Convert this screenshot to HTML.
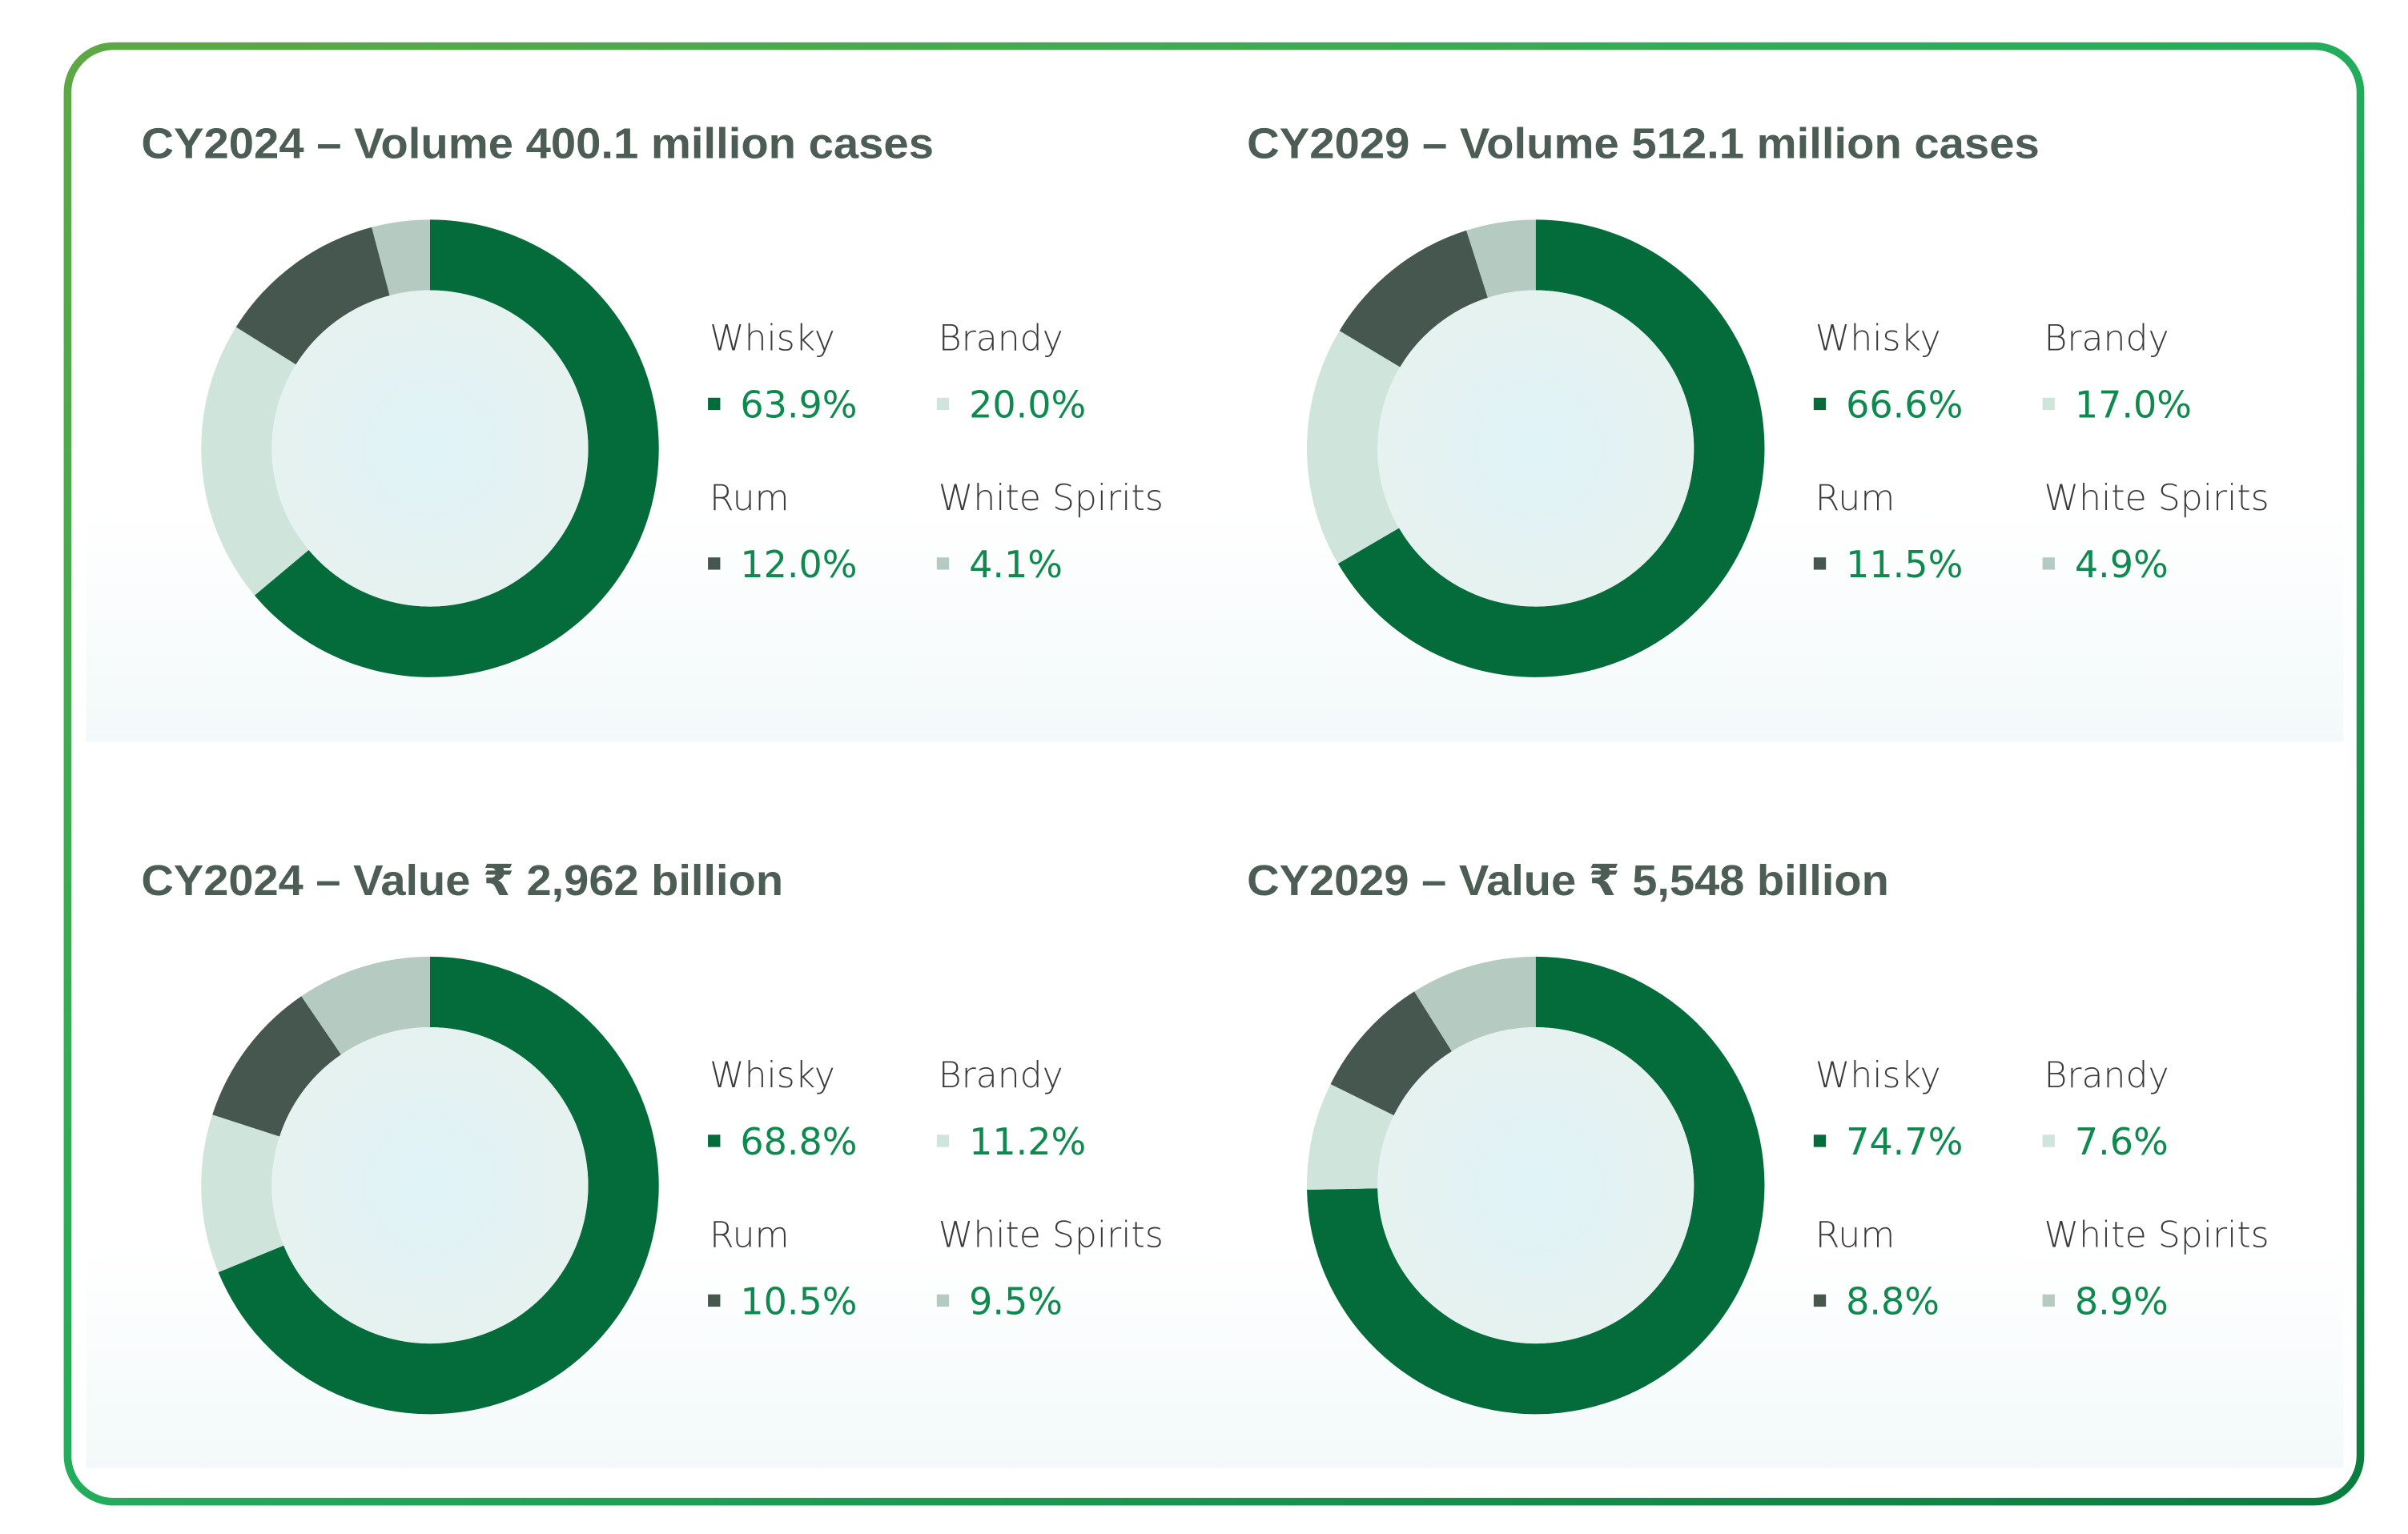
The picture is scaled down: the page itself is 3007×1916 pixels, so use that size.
<!DOCTYPE html>
<html><head><style>
html,body{margin:0;padding:0;background:#fff;}
svg{display:block}
text{font-family:"Liberation Sans","DejaVu Sans",sans-serif}
.t{font-size:28px;font-weight:bold;fill:#4b5d54}
.l{font-size:23px;fill:#3a3a3a;font-family:"DejaVu Sans","Liberation Sans",sans-serif;font-weight:200}
.v{font-size:24px;fill:#0f8a4f;font-family:"DejaVu Sans","Liberation Sans",sans-serif}
</style></head><body>
<svg width="3007" height="1916" viewBox="0 0 1568 999" xmlns="http://www.w3.org/2000/svg">
<defs>
<linearGradient id="bd" x1="0" y1="0" x2="1" y2="1">
<stop offset="0" stop-color="#5ea845"/><stop offset="0.5" stop-color="#22ad5c"/><stop offset="1" stop-color="#0a7d3f"/>
</linearGradient>
<radialGradient id="in" cx="0.5" cy="0.5" r="0.5"><stop offset="0" stop-color="#e0f3f8"/><stop offset="1" stop-color="#e6f2ef"/></radialGradient>
<linearGradient id="sh" x1="0" y1="0" x2="0" y2="1"><stop offset="0" stop-color="#fff"/><stop offset="1" stop-color="#f3f9fa"/></linearGradient>
</defs>
<rect x="0" y="0" width="1568" height="999" fill="#fff"/>
<rect x="56" y="330" width="1470" height="153" fill="url(#sh)"/>
<rect x="56" y="810" width="1470" height="146" fill="url(#sh)"/>
<rect x="44" y="30" width="1493" height="948" rx="30" fill="none" stroke="url(#bd)" stroke-width="5"/>
<g id="charts"></g>
<text class="t" x="92" y="103" textLength="516" lengthAdjust="spacingAndGlyphs">CY2024 – Volume 400.1 million cases</text>
<text class="t" x="812" y="103" textLength="516" lengthAdjust="spacingAndGlyphs">CY2029 – Volume 512.1 million cases</text>
<text class="t" x="92" y="583" textLength="418" lengthAdjust="spacingAndGlyphs">CY2024 – Value ₹ 2,962 billion</text>
<text class="t" x="812" y="583" textLength="418" lengthAdjust="spacingAndGlyphs">CY2029 – Value ₹ 5,548 billion</text>
</svg>
<script>
var C=["#046b3a","#cfe5dc","#46574f","#b5cbc2"];
var data=[[280,292,[63.9,20.0,12.0,4.1]],[1000,292,[66.6,17.0,11.5,4.9]],[280,772,[68.8,11.2,10.5,9.5]],[1000,772,[74.7,7.6,8.8,8.9]]];
var g=document.getElementById("charts"),s="";
var R=149,r=103;
function pt(cx,cy,rad,a){var t=(a-90)*Math.PI/180;return [cx+rad*Math.cos(t),cy+rad*Math.sin(t)];}
var names=["Whisky","Brandy","Rum","White Spirits"];
data.forEach(function(d){
 var cx=d[0],cy=d[1],v=d[2],tot=v[0]+v[1]+v[2]+v[3],a=0;
 [0,1,2,3].forEach(function(i){
  var b=a+v[i]/tot*360,p1=pt(cx,cy,R,a),p2=pt(cx,cy,R,b),p3=pt(cx,cy,r,b),p4=pt(cx,cy,r,a),la=(b-a)>180?1:0;
  s+='<path fill="'+C[i]+'" d="M'+p1+' A'+R+','+R+' 0 '+la+' 1 '+p2+' L'+p3+' A'+r+','+r+' 0 '+la+' 0 '+p4+'Z"/>';
  a=b;
 });
 s+='<circle cx="'+cx+'" cy="'+cy+'" r="'+r+'" fill="url(#in)"/>';
 var lx=cx+182,cols=[lx,lx+149],rows=[cy-64,cy+40];
 for(var i=0;i<4;i++){
  var x=cols[i%2],y=rows[Math.floor(i/2)];
  s+='<text class="l" x="'+x+'" y="'+(y)+'">'+names[i]+'</text>';
  s+='<rect x="'+(x-1)+'" y="'+(y+31)+'" width="8" height="8" fill="'+C[i]+'"/>';
  s+='<text class="v" x="'+(x+20)+'" y="'+(y+44)+'">'+v[i].toFixed(1)+'%</text>';
 }
});
g.innerHTML=s;
</script>
</body></html>
